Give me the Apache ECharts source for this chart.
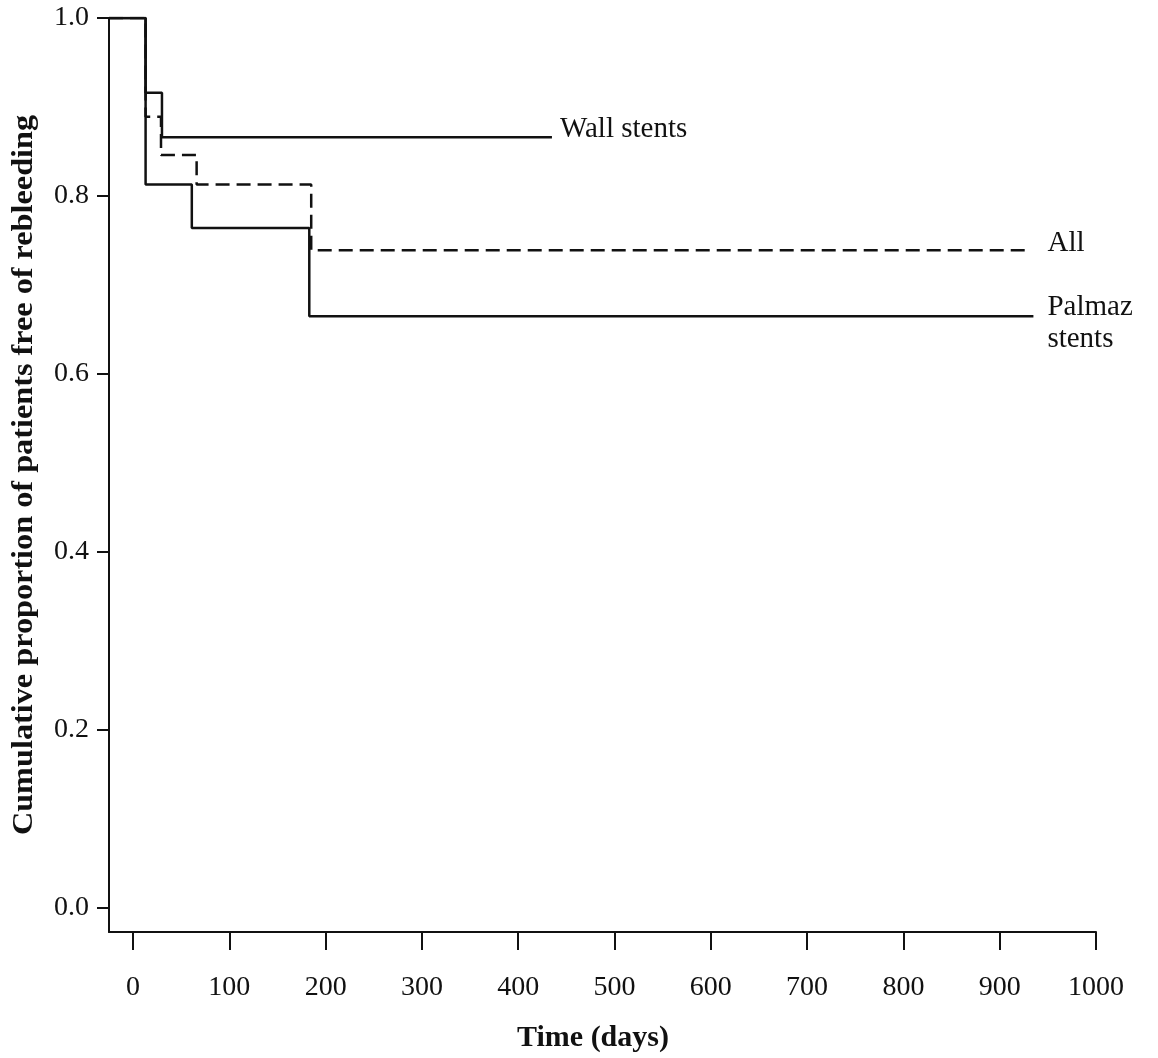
<!DOCTYPE html>
<html>
<head>
<meta charset="utf-8">
<script src="https://cdn.jsdelivr.net/npm/echarts@6/dist/echarts.min.js"></script>
<style>
html,body{margin:0;padding:0;background:#fff;}
#chart{width:1158px;height:1058px;}
</style>
</head>
<body>
<div id="chart"></div>
<script>
// Kaplan-Meier step curves: [day, proportion free of rebleeding]
const wallStents = [[-25, 1.0], [13, 0.916], [30, 0.866], [435, 0.866]];
const palmazStents = [[-25, 1.0], [13, 0.813], [61, 0.764], [183, 0.665], [935, 0.665]];
const allPatients = [[-25, 1.0], [13, 0.889], [29, 0.846], [66, 0.813], [185, 0.739], [931, 0.739]];
const xTicks = [0, 100, 200, 300, 400, 500, 600, 700, 800, 900, 1000];
const yTicks = [0.0, 0.2, 0.4, 0.6, 0.8, 1.0];
const seriesNames = ['Wall stents', 'All', 'Palmaz\nstents'];
const xTitle = 'Time (days)';
const yTitle = 'Cumulative proportion of patients free of rebleeding';

const FONT = "'Liberation Serif', 'Times New Roman', serif";
const INK = '#111';

const chart = echarts.init(document.getElementById('chart'), null, {renderer: 'canvas'});

const labelBase = {show: true, fontFamily: FONT, fontSize: 29, color: INK, lineHeight: 32, align: 'left'};

chart.setOption({
  animation: false,
  backgroundColor: '#fff',
  grid: {left: 109, right: 62, top: 18, bottom: 126, containLabel: false},
  xAxis: {
    type: 'value', min: -25, max: 1000,
    axisLine: {show: true, onZero: false, lineStyle: {color: INK, width: 2}},
    axisTick: {show: true, customValues: xTicks, length: 18, lineStyle: {color: INK, width: 2}},
    axisLabel: {show: true, customValues: xTicks, margin: 42, fontFamily: FONT, fontSize: 28, color: INK,
      formatter: v => String(v)},
    splitLine: {show: false}
  },
  yAxis: {
    type: 'value', min: -0.027, max: 1.0,
    axisLine: {show: true, onZero: false, lineStyle: {color: INK, width: 2}},
    axisTick: {show: true, customValues: yTicks, length: 12, lineStyle: {color: INK, width: 2}},
    axisLabel: {show: true, customValues: yTicks, margin: 20, fontFamily: FONT, fontSize: 28, color: INK,
      formatter: v => Number(v).toFixed(1)},
    splitLine: {show: false}
  },
  graphic: [
    {type: 'text', x: 593, y: 1038, style: {text: xTitle, font: "bold 30px " + FONT, fill: INK, align: 'center', verticalAlign: 'middle'}},
    {type: 'text', x: 24, y: 475, rotation: Math.PI / 2, scaleX: 1.075, style: {text: yTitle, font: "bold 30px " + FONT, fill: INK, align: 'center', verticalAlign: 'middle'}}
  ],
  series: [
    {
      name: seriesNames[1], type: 'line', step: 'end', data: allPatients, symbol: 'none', z: 2,
      lineStyle: {color: INK, width: 2.5, type: [14, 7]},
      endLabel: Object.assign({}, labelBase, {formatter: seriesNames[1], distance: 18, offset: [0, -7]})
    },
    {
      name: seriesNames[0], type: 'line', step: 'end', data: wallStents, symbol: 'none', z: 3,
      lineStyle: {color: INK, width: 2.5},
      endLabel: Object.assign({}, labelBase, {formatter: seriesNames[0], distance: 8, offset: [0, -8]})
    },
    {
      name: seriesNames[2], type: 'line', step: 'end', data: palmazStents, symbol: 'none', z: 3,
      lineStyle: {color: INK, width: 2.5},
      endLabel: Object.assign({}, labelBase, {formatter: seriesNames[2], distance: 14, offset: [0, 7]})
    }
  ]
});
</script>
</body>
</html>
